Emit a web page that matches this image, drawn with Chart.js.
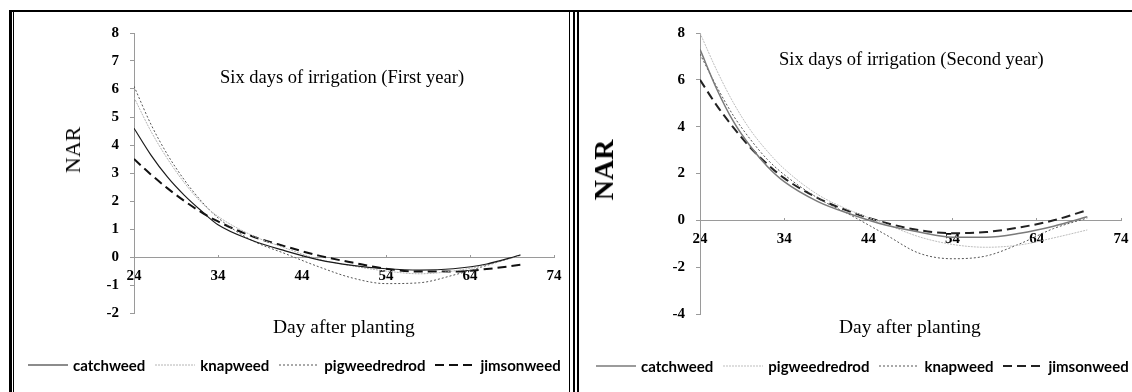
<!DOCTYPE html>
<html>
<head>
<meta charset="utf-8">
<script src="https://cdn.jsdelivr.net/npm/chart.js@4"></script>
<style>
  body { margin: 0; background: #fff; }
  #page { position: relative; width: 1132px; height: 392px; overflow: hidden; background: #fff; }
  .rule { position: absolute; background: #000; }
  .panel { position: absolute; top: 13px; height: 379px; }
  .panel canvas { position: absolute; left: 0; top: 0; }
  .txt { position: absolute; font-family: 'Liberation Serif', 'Times New Roman', serif; color: #000; white-space: nowrap; line-height: 1; }
  .ytitle { transform: translate(-50%, -50%) rotate(-90deg); }
  .note { font-size: 18.5px; transform: translateY(-50%); }
  .xtitle { font-size: 19.5px; transform: translateY(-50%); }
  .legend { position: absolute; display: flex; align-items: center; transform: translateY(-50%); white-space: nowrap; }
  .legend .item { display: flex; align-items: center; margin-right: 10px; }
  .legend canvas { position: static; margin-right: 5px; }
  .legend span { font-family: Lato, 'Liberation Sans', sans-serif; font-weight: bold; font-size: 15px; color: #000; }
</style>
</head>
<body>
<div id="page">
  <div class="rule" style="left:9px; top:10px; width:1130px; height:2px;"></div>
  <div class="rule" style="left:9px; top:10px; width:3px; height:390px;"></div>
  <div class="rule" style="left:13px; top:12px; width:1px; height:390px;"></div>
  <div class="rule" style="left:569px; top:12px; width:1px; height:390px;"></div>
  <div class="rule" style="left:573px; top:12px; width:2px; height:390px;"></div>
  <div class="rule" style="left:577px; top:12px; width:2px; height:390px;"></div>

  <div class="panel" style="left:15px; width:560px;">
    <canvas id="chart1" width="560" height="379"></canvas>
    <div class="txt ytitle" style="left:58px; top:137px; font-size:22px;">NAR</div>
    <div class="txt note" style="left:205px; top:64px;">Six days of irrigation (First year)</div>
    <div class="txt xtitle" style="left:258px; top:314px;">Day after planting</div>
    <div class="legend" id="legend1" style="left:13px; top:352px;"></div>
  </div>

  <div class="panel" style="left:580px; width:562px;">
    <canvas id="chart2" width="562" height="379"></canvas>
    <div class="txt ytitle" style="left:24px; top:157px; font-size:28px; font-weight:bold;">NAR</div>
    <div class="txt note" style="left:199px; top:46px;">Six days of irrigation (Second year)</div>
    <div class="txt xtitle" style="left:259px; top:314px;">Day after planting</div>
    <div class="legend" id="legend2" style="left:16px; top:353px;"></div>
  </div>
</div>

<script>
// days after planting where the fitted NAR curves are sampled
const days = [24, 26, 28, 30, 32, 34, 38, 42, 46, 50, 54, 58, 62, 66, 70];

// first year
const catchweed1   = [4.6, 3.65, 2.85, 2.2, 1.65, 1.15, 0.6, 0.22, -0.1, -0.3, -0.42, -0.47, -0.42, -0.25, 0.07];
const knapweed1    = [5.7, 4.5, 3.5, 2.65, 1.95, 1.45, 0.78, 0.32, -0.08, -0.32, -0.5, -0.6, -0.5, -0.28, 0.05];
const pigweed1     = [6.1, 4.75, 3.65, 2.75, 2.0, 1.4, 0.6, 0.12, -0.35, -0.75, -0.95, -0.92, -0.65, -0.3, 0.07];
const jimsonweed1  = [3.5, 2.95, 2.45, 2.0, 1.6, 1.27, 0.75, 0.38, 0.05, -0.2, -0.42, -0.52, -0.52, -0.43, -0.28];

// second year
const catchweed2   = [7.3, 5.6, 4.2, 3.15, 2.3, 1.65, 0.8, 0.25, -0.2, -0.5, -0.72, -0.72, -0.55, -0.25, 0.15];
const pigweed2     = [8.0, 6.4, 5.0, 3.85, 2.95, 2.2, 1.1, 0.4, -0.15, -0.7, -1.03, -1.15, -1.05, -0.75, -0.41];
const knapweed2    = [7.1, 5.7, 4.45, 3.45, 2.6, 1.95, 0.95, 0.2, -0.6, -1.4, -1.64, -1.52, -1.0, -0.35, 0.1];
const jimsonweed2  = [6.0, 4.9, 3.95, 3.1, 2.4, 1.8, 0.95, 0.35, -0.1, -0.42, -0.55, -0.5, -0.3, 0.0, 0.44];

const xTicks = [24, 34, 44, 54, 64, 74];

const tickFont = { family: "'Liberation Serif', 'Times New Roman', serif", size: 15, weight: 'bold' };
const axisGray = '#9a9a9a';

function line(label, values, color, width, dash) {
  return {
    label: label,
    data: days.map((d, i) => ({ x: d, y: values[i] })),
    borderColor: color,
    borderWidth: width,
    borderDash: dash,
    pointRadius: 0,
    cubicInterpolationMode: 'monotone',
    fill: false
  };
}

function drawChart(id, datasets, yMin, yMax, yStep, pad) {
  const ctx = document.getElementById(id).getContext('2d');
  return new Chart(ctx, {
    type: 'line',
    data: { datasets: datasets },
    options: {
      responsive: false,
      animation: false,
      events: [],
      layout: { padding: pad },
      plugins: { legend: { display: false }, tooltip: { enabled: false } },
      scales: {
        x: {
          type: 'linear',
          position: { y: 0 },
          min: xTicks[0],
          max: xTicks[xTicks.length - 1],
          afterBuildTicks: s => { s.ticks = xTicks.map(v => ({ value: v })); },
          afterFit: s => { s.height = 0; },
          ticks: { color: '#000', font: tickFont, padding: 13, maxRotation: 0, autoSkip: false },
          grid: { drawOnChartArea: false, tickLength: -3, color: axisGray },
          border: { color: axisGray }
        },
        y: {
          min: yMin,
          max: yMax,
          afterFit: s => { s.width = 60; },
          ticks: { stepSize: yStep, color: '#000', font: tickFont, padding: 11 },
          grid: { drawOnChartArea: false, tickLength: 4, color: axisGray },
          border: { color: axisGray }
        }
      }
    }
  });
}

// legend rows under each panel, built from the chart's own legend items
function buildLegend(chart, elId) {
  const el = document.getElementById(elId);
  const items = Chart.defaults.plugins.legend.labels.generateLabels(chart);
  items.forEach(item => {
    const row = document.createElement('div');
    row.className = 'item';
    const c = document.createElement('canvas');
    c.width = 40; c.height = 10;
    const g = c.getContext('2d');
    g.strokeStyle = item.strokeStyle;
    g.lineWidth = item.lineWidth;
    g.setLineDash(item.lineDash || []);
    g.beginPath(); g.moveTo(0, 5); g.lineTo(40, 5); g.stroke();
    const t = document.createElement('span');
    t.textContent = item.text;
    row.appendChild(c); row.appendChild(t);
    el.appendChild(row);
  });
}

const chart1 = drawChart('chart1', [
  line('catchweed', catchweed1, '#1a1a1a', 1.2, []),
  line('knapweed', knapweed1, '#b4b4b4', 1, [2, 1]),
  line('pigweedredrod', pigweed1, '#555', 1, [2, 2]),
  line('jimsonweed', jimsonweed1, '#111', 2, [9, 5])
], -2, 8, 1, { left: 59, right: 21, top: 9, bottom: 79 });

const chart2 = drawChart('chart2', [
  line('catchweed', catchweed2, '#7a7a7a', 1.5, []),
  line('pigweedredrod', pigweed2, '#bdbdbd', 1, [2, 1]),
  line('knapweed', knapweed2, '#555', 1, [2, 2]),
  line('jimsonweed', jimsonweed2, '#222', 2, [9, 5])
], -4, 8, 2, { left: 60, right: 21, top: 9, bottom: 78 });

buildLegend(chart1, 'legend1');
buildLegend(chart2, 'legend2');
</script>
</body>
</html>
